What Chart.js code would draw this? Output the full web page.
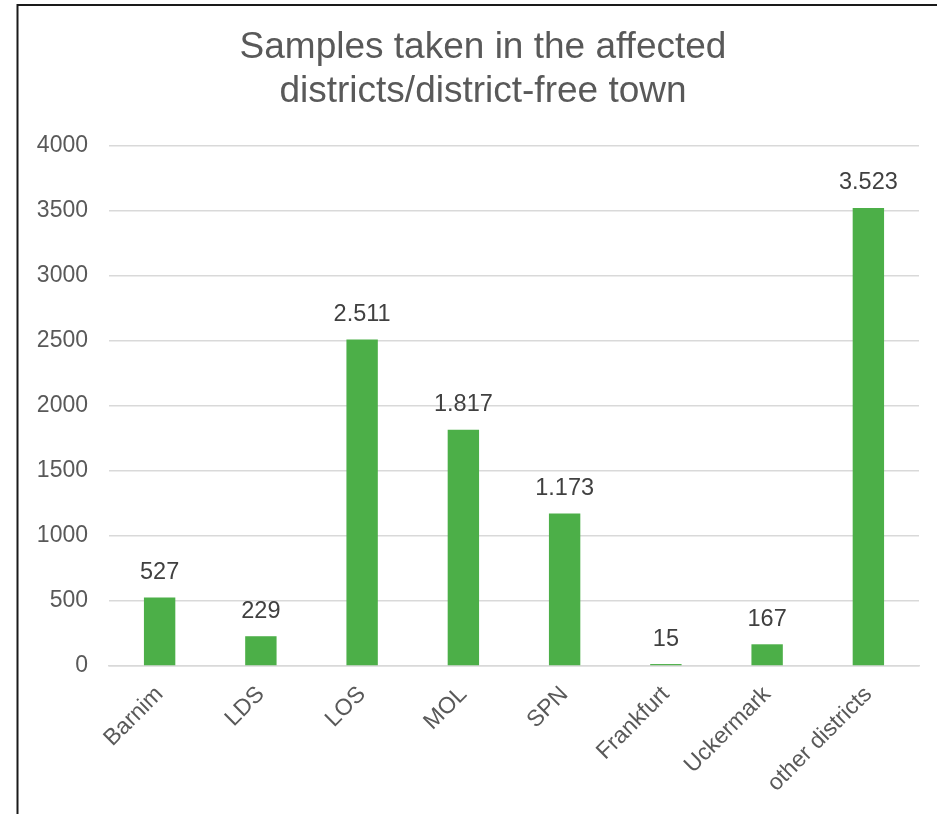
<!DOCTYPE html>
<html><head><meta charset="utf-8">
<script src="https://cdn.jsdelivr.net/npm/chart.js@4.4.1/dist/chart.umd.min.js"></script>
<style>html,body{margin:0;padding:0;background:#fff;}#wrap{position:absolute;left:0;top:0;width:937px;height:814px;}</style>
</head><body><div id="wrap"><canvas id="c" width="937" height="814"></canvas></div>
<script>
const categories = ["Barnim","LDS","LOS","MOL","SPN","Frankfurt","Uckermark","other districts"];
const samples = [527,229,2511,1817,1173,15,167,3523];
const yTicks = [0,500,1000,1500,2000,2500,3000,3500,4000];
const titleLines = ["Samples taken in the affected","districts/district-free town"];

function fmt(v){ return String(v).replace(/\B(?=(\d{3})+(?!\d))/g,"."); }
const FONT = '"Liberation Sans", Arial, sans-serif';

const frame = {
  id:'frame',
  afterDraw(chart){
    const ctx = chart.ctx; ctx.save();
    ctx.strokeStyle='#1a1a1a'; ctx.lineWidth=2;
    ctx.beginPath(); ctx.moveTo(17.5,814); ctx.lineTo(17.5,5); ctx.lineTo(937,5); ctx.stroke();
    ctx.fillStyle='#595959'; ctx.font='37px ' + FONT; ctx.textAlign='center'; ctx.textBaseline='middle';
    titleLines.forEach((t,i)=>ctx.fillText(t, 483, 48 + i*44));
    ctx.restore();
  }
};
const valueLabels = {
  id:'valueLabels',
  afterDatasetsDraw(chart){
    const ctx = chart.ctx; const meta = chart.getDatasetMeta(0);
    ctx.save(); ctx.font='23.5px ' + FONT; ctx.fillStyle='#404040';
    ctx.textAlign='center'; ctx.textBaseline='middle';
    meta.data.forEach((el,i)=>{ ctx.fillText(fmt(chart.data.datasets[0].data[i]), el.x, el.y-25); });
    ctx.restore();
  }
};

new Chart(document.getElementById('c'),{
  type:'bar',
  data:{labels:categories,datasets:[{data:samples,backgroundColor:'#4caf48',borderWidth:0,categoryPercentage:1,barPercentage:0.31}]},
  options:{
    responsive:false,animation:false,devicePixelRatio:1,
    layout:{padding:{left:18,right:18,top:146,bottom:0}},
    plugins:{legend:{display:false},tooltip:{enabled:false},title:{display:false}},
    scales:{
      x:{grid:{display:false,drawTicks:false},border:{display:true,color:'#d9d9d9',width:1.5},
         ticks:{color:'#595959',font:{family:FONT,size:23},minRotation:45,maxRotation:45,padding:15,autoSkip:false},
         afterFit(s){s.height=148;}},
      y:{min:0,max:4000,grid:{color:'#d9d9d9',lineWidth:1.5,drawTicks:false},border:{display:false},
         afterBuildTicks(s){s.ticks=yTicks.map(v=>({value:v}));},
         ticks:{color:'#595959',font:{family:FONT,size:23},padding:21,callback:(v)=>String(v)},
         afterFit(s){s.width=91;}}
    }
  },
  plugins:[frame,valueLabels]
});
</script></body></html>
